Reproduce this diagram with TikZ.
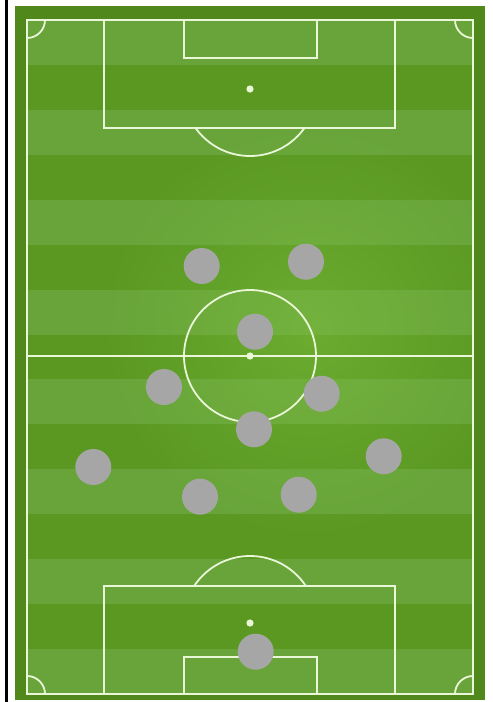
\documentclass[tikz,border=0pt]{standalone}
\usetikzlibrary{fadings}
\definecolor{framegreen}{RGB}{80,136,28}
\definecolor{darkstripe}{RGB}{90,152,34}
\definecolor{lightstripe}{RGB}{104,164,58}
\definecolor{glowgreen}{RGB}{130,196,66}
\definecolor{linecol}{RGB}{234,246,216}
\definecolor{playergrey}{RGB}{166,166,166}
\tikzfading[name=glowfade, inner color=transparent!55, outer color=transparent!100]

\begin{document}
\begin{tikzpicture}[x=1pt, y=-1pt,
    pitchline/.style={draw=linecol, line width=1.8pt},
    spot/.style={fill=linecol},
    player/.style={circle, fill=playergrey, minimum size=36pt, inner sep=0pt}]
    \useasboundingbox (0,0) rectangle (493,702);
    \fill[white] (0,0) rectangle (493,702);

    % --- linker Rand ---
    \fill[black] (5,0) rectangle (7.5,702);

    % --- Rasen: Rahmen und Streifen ---
    \fill[framegreen] (15,6) rectangle (485,700);
    \def\sw{44.93}
    \foreach \i in {0,...,14} {
        \pgfmathsetmacro{\ya}{20+\i*\sw}
        \pgfmathsetmacro{\yb}{\ya+\sw}
        \ifodd\i \def\sc{darkstripe}\else \def\sc{lightstripe}\fi
        \fill[\sc] (27,\ya) rectangle (473,\yb);
    }
    % heller Schimmer in der Mitte
    \begin{scope}
        \clip (27,20) rectangle (473,694);
        \fill[glowgreen, path fading=glowfade] (310,330) circle (210);
    \end{scope}

    % --- Linien ---
    \draw[pitchline] (27,20) rectangle (473,694);
    \draw[pitchline] (27,356) -- (473,356);
    \draw[pitchline] (250,356) circle (66);
    \fill[spot] (250,356) circle (3.6);

    % Eckbögen
    \begin{scope}
        \clip (27,20) rectangle (473,694);
        \foreach \cx/\cy in {27/20, 473/20, 27/694, 473/694}
            \draw[pitchline] (\cx,\cy) circle (18);
    \end{scope}

    % oberer Strafraum
    \draw[pitchline] (104,20) rectangle (395,128);
    \draw[pitchline] (184,20) rectangle (317,58);
    \fill[spot] (250,89) circle (3.6);
    \begin{scope}
        \clip (27,128) rectangle (473,300);
        \draw[pitchline] (250,89) circle (67);
    \end{scope}

    % unterer Strafraum
    \draw[pitchline] (104,586) rectangle (395,694);
    \draw[pitchline] (184,657) rectangle (317,694);
    \fill[spot] (250,623) circle (3.6);
    \begin{scope}
        \clip (27,400) rectangle (473,586);
        \draw[pitchline] (250,623) circle (67);
    \end{scope}

    % --- Spieler ---
    \foreach \n/\px/\py in {1/201.7/266, 2/306/261.7, 3/255/331.7,
                            4/164/387, 5/321.7/393.7, 6/254/429.3,
                            7/93.3/467, 8/200/496.7, 9/298.7/494.7,
                            10/383.7/456.3, 11/255.7/651.7}
        \node[player] (p\n) at (\px,\py) {};
\end{tikzpicture}
\end{document}
